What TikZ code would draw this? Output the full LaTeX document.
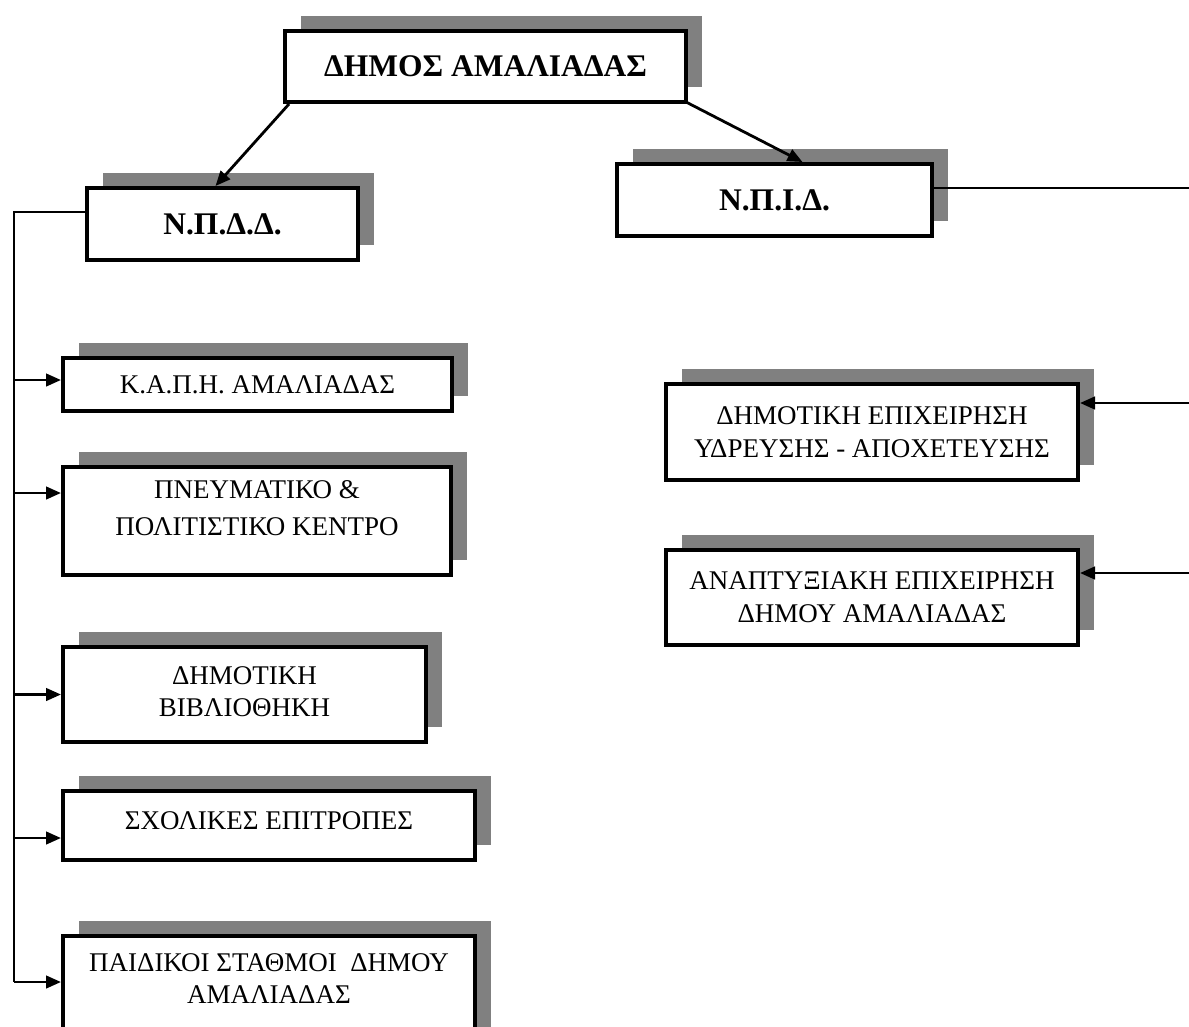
\documentclass[tikz,border=0pt]{standalone}
\usepackage{fontspec}
\setmainfont{Liberation Serif}
\usetikzlibrary{shadows,arrows.meta,calc}
\begin{document}
\begin{tikzpicture}[x=1pt,y=-1pt,
  txt/.style={inner sep=0pt, align=center, font=\fontsize{27}{33}\selectfont},
  box/.style={draw, line width=4.2pt, fill=white, inner sep=0pt, align=center,
    font=\fontsize{27}{33}\selectfont,
    general shadow={fill=black!50, shadow xshift=16pt, shadow yshift=15pt}},
  title/.style={box, font=\bfseries\fontsize{31.5}{36}\selectfont},
  arr/.style={line width=2.8pt, -{Triangle[length=15pt,width=12.5pt]}},
  wire/.style={line width=2.2pt}]
\useasboundingbox (0,0) rectangle (1189,1026);
\clip (0,0) rectangle (1189,1026);

% top level
\node[title, minimum width=400.8pt, minimum height=70.8pt] (dimos) at (485.5,66.5) {ΔΗΜΟΣ ΑΜΑΛΙΑΔΑΣ};
\node[title, minimum width=270.8pt, minimum height=71.8pt] (npdd) at (222.5,224) {Ν.Π.Δ.Δ.};
\node[title, minimum width=314.8pt, minimum height=71.8pt] (npid) at (774.5,200) {Ν.Π.Ι.Δ.};

% left column
\node[box, minimum width=388.8pt, minimum height=52.8pt] (kapi) at (257.5,384.5) {Κ.Α.Π.Η. ΑΜΑΛΙΑΔΑΣ};
\node[box, minimum width=387.8pt, minimum height=107.8pt,
  label={[txt, yshift=13pt, font=\fontsize{27}{37}\selectfont]center:ΠΝΕΥΜΑΤΙΚΟ \&\\ΠΟΛΙΤΙΣΤΙΚΟ ΚΕΝΤΡΟ}] (pnevm) at (257,521) {};
\node[box, minimum width=362.8pt, minimum height=94.8pt,
  label={[txt, yshift=3pt, font=\fontsize{27}{32}\selectfont]center:ΔΗΜΟΤΙΚΗ\\ΒΙΒΛΙΟΘΗΚΗ}] (vivl) at (244.5,694.5) {};
\node[box, minimum width=411.8pt, minimum height=68.8pt,
  label={[txt, yshift=5pt]center:ΣΧΟΛΙΚΕΣ ΕΠΙΤΡΟΠΕΣ}] (sxol) at (269,825.5) {};
\node[box, minimum width=411.8pt, minimum height=111.8pt,
  label={[txt, yshift=13pt, font=\fontsize{27}{32}\selectfont]center:ΠΑΙΔΙΚΟΙ ΣΤΑΘΜΟΙ\ \ ΔΗΜΟΥ\\ΑΜΑΛΙΑΔΑΣ}] (paid) at (269,992) {};

% right column
\node[box, minimum width=411.8pt, minimum height=95.8pt] (ydr) at (872,432) {ΔΗΜΟΤΙΚΗ ΕΠΙΧΕΙΡΗΣΗ\\ΥΔΡΕΥΣΗΣ - ΑΠΟΧΕΤΕΥΣΗΣ};
\node[box, minimum width=411.8pt, minimum height=94.8pt] (anap) at (872,597.5) {ΑΝΑΠΤΥΞΙΑΚΗ ΕΠΙΧΕΙΡΗΣΗ\\ΔΗΜΟΥ ΑΜΑΛΙΑΔΑΣ};

% top arrows
\draw[arr] ($(dimos.south west)+(6,0)$) -- ($(npdd.north)+(-7,0)$);
\draw[arr] ($(dimos.south east)+(-2,-2)$) -- ($(npid.north)+(28,0)$);

% left bus
\coordinate (npddout) at ($(npdd.west)+(0,-12)$);
\coordinate (bus) at (14,212);
\coordinate (kin) at ($(kapi.west)+(0,-4.5)$);
\coordinate (pin) at ($(pnevm.west)+(0,-28)$);
\coordinate (vin) at (vivl.west);
\coordinate (sin) at ($(sxol.west)+(0,12.5)$);
\coordinate (din) at ($(paid.west)+(0,-10)$);
\draw[wire] (npddout) -- (bus) -- (bus |- din);
\draw[arr] (bus |- kin) -- (kin);
\draw[arr] (bus |- pin) -- (pin);
\draw[arr] (bus |- vin) -- (vin);
\draw[arr] (bus |- sin) -- (sin);
\draw[arr] (bus |- din) -- (din);

% right side
\coordinate (npidout) at ($(npid.east)+(0,-12)$);
\coordinate (redge) at (1192,188);
\draw[wire] (npidout) -- (redge);
\coordinate (yin) at ($(ydr.east)+(0,-29)$);
\coordinate (ain) at ($(anap.east)+(0,-24.5)$);
\draw[arr] (redge |- yin) -- (yin);
\draw[arr] (redge |- ain) -- (ain);
\end{tikzpicture}
\end{document}
